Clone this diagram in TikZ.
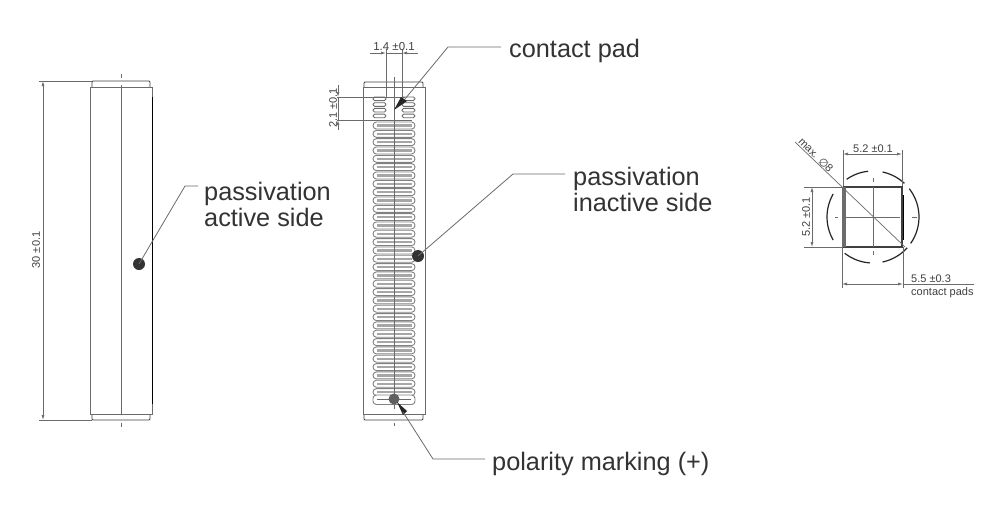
\documentclass[tikz,border=0pt]{standalone}
\usepackage{fontspec}
\setmainfont{Liberation Sans}
\newfontfamily\djv{DejaVu Sans}
\usetikzlibrary{arrows.meta}
\definecolor{ln}{gray}{0.42}
\definecolor{dk}{gray}{0.25}
\tikzset{
  partline/.style={draw=ln,line width=1pt},
  capline/.style={draw=dk,line width=0.9pt,rounded corners=1pt},
  thinline/.style={draw=ln,line width=0.7pt},
  dimline/.style={draw=ln,line width=0.7pt,{Latex[length=5pt,width=3pt]}-{Latex[length=5pt,width=3pt]}},
  dimout/.style={draw=ln,line width=0.7pt},
  leadline/.style={draw=ln,line width=0.8pt},
  dimtxt/.style={font=\fontsize{11}{13}\selectfont,text=dk,inner sep=0pt},
  labtxt/.style={font=\fontsize{25.3}{29}\selectfont,text=black!80,inner sep=0pt,anchor=base west},
  dotnode/.style={circle,fill=black!80,draw=none,minimum size=12pt,inner sep=0pt},
  lobe/.style={draw=ln!85,line width=0.9pt,fill=white,rounded corners=3.4pt},
  lobebar/.style={fill=ln!60},
  slot/.style={draw=ln,line width=0.9pt,fill=white,rounded corners=1.6pt},
  circarc/.style={draw=black!85,line width=1.2pt},
}
\begin{document}
\begin{tikzpicture}[x=1pt,y=-1pt]
\useasboundingbox (0,0) rectangle (1000,506);
\fill[white] (0,0) rectangle (1000,506);
% ===== left view
\draw[capline] (92,87) -- (92,81) -- (150,81) -- (150,87);
\draw[capline] (92,414) -- (92,420) -- (150,420) -- (150,414);
\draw[partline] (90,414) -- (90,87) -- (152,87) -- (152,414) -- cycle;
\draw[black,line width=1.1pt] (152.3,97) -- (152.3,404);
\draw[thinline] (121,74) -- (121,78) (121,85) -- (121,414) (121,423) -- (121,427);
\draw[thinline] (39,81) -- (92,81) (39,420) -- (92,420);
\coordinate (dT) at (43,81); \coordinate (dB) at (43,420);
\draw[dimline] (dT) -- (dB);
\node[dimtxt,rotate=90] (d30) at (36,250) {30 ±0.1};
\node[dotnode] (pa) at (139,264) {};
\coordinate (pa1) at (185,186);
\coordinate (pa2) at (198,186);
\draw[leadline] (pa.center) -- (pa1) -- (pa2);
\node[labtxt] (pat) at (204,200) {passivation};
\node[labtxt] (pat2) at (204,226) {active side};
% ===== middle view
\foreach \n in {0,...,32}{
  \pgfmathsetmacro{\y}{122+\n*8.33}
  \draw[lobe] (373,\y) rectangle (415,\y+7);
  \fill[lobebar] (376.5,\y+2.4) rectangle (411.5,\y+4.6);
}
\draw[lobe] (373,395) rectangle (415,404.5);
\draw[ln,line width=0.8pt] (377,399.7) -- (411,399.7);
\foreach \y in {97,102.7,108.4,114.1}{
  \draw[slot] (373,\y) rectangle (386,\y+3.6);
  \draw[slot] (402,\y) rectangle (415,\y+3.6);
}
\draw[capline] (364,87) -- (364,82) -- (423,82) -- (423,87);
\draw[capline] (364,414) -- (364,420) -- (423,420) -- (423,414);
\draw[partline] (363,414) -- (363,87) -- (425,87) -- (425,414) -- cycle;
\draw[thinline] (394,77) -- (394,409) (394,423) -- (394,426);
% dimension 1.4
\draw[thinline] (386,49) -- (386,97) (402,49) -- (402,97);
\draw[dimout,{Latex[length=5pt,width=3pt]}-] (386,53) -- (370,53);
\draw[dimout,{Latex[length=5pt,width=3pt]}-] (402,53) -- (418,53);
\draw[dimout] (386,53) -- (402,53);
\node[dimtxt,font=\fontsize{11.5}{13}\selectfont] (d14) at (394,47) {1.4 ±0.1};
% dimension 2.1
\draw[thinline] (333,97) -- (405,97) (333,120) -- (412,120);
\draw[dimout,{Latex[length=5pt,width=3pt]}-] (338,97) -- (338,85);
\draw[dimout,{Latex[length=5pt,width=3pt]}-] (338,120) -- (338,130);
\draw[dimout] (338,97) -- (338,120);
\node[dimtxt,fill=white,inner sep=0.5pt,rotate=90] (d21) at (333,108) {2.1 ±0.1};
% leaders
\fill[black!85] (394,110) -- (401,97) -- (407,101) -- cycle;
\coordinate (cp1) at (448,47); \coordinate (cp2) at (501,47); \coordinate (cp0) at (405,99);
\draw[leadline] (cp0) -- (cp1) -- (cp2);
\node[labtxt] (cpt) at (509,57) {contact pad};
\node[dotnode] (pi) at (418,256) {};
\coordinate (pi1) at (513,174); \coordinate (pi2) at (565,174);
\draw[leadline] (pi.center) -- (pi1) -- (pi2);
\node[labtxt] (pit) at (573,185) {passivation};
\node[labtxt] (pit2) at (573,211) {inactive side};
\node[circle,fill=gray!75!black,minimum size=11pt,inner sep=0pt] (pm) at (394,399) {};
\fill[black!85] (397,402) -- (407,411) -- (403,415) -- cycle;
\coordinate (pm0) at (403,412); \coordinate (pm1) at (433,459); \coordinate (pm2) at (485,459);
\draw[leadline] (pm0) -- (pm1) -- (pm2);
\node[labtxt] (pmt) at (492,470) {polarity marking (+)};
% ===== right view
\draw[dk,line width=1.2pt] (844,187) rectangle (902,247);
\fill[gray!85!black] (842,187) rectangle (845.5,247);
\draw[black,line width=1.3pt] (903.5,195) -- (903.5,240);
\foreach \a/\b in {-35/38,47/78,96/125,150/210,232/266,282/318}{
  \draw[circarc] plot[domain=\a:\b,samples=16,smooth] ({873+46*cos(\x)},{217-46*sin(\x)});
}
\draw[thinline] (873,178) -- (873,182) (873,187) -- (873,247) (873,251) -- (873,255);
\draw[thinline] (835,217) -- (838,217) (846,217) -- (900,217) (912,217) -- (917,217);
\coordinate (dg1) at (795,142); \coordinate (dg2) at (905,247);
\draw[thinline] (dg1) -- (dg2);
\node[dimtxt,rotate=-45] (dmax) at (816,155) {max. {\djv ∅}8};
\draw[thinline] (843,150) -- (843,186) (902,150) -- (902,186);
\draw[dimline] (843,154) -- (902,154);
\node[dimtxt] (d52a) at (873,149) {5.2 ±0.1};
\draw[thinline] (804,187) -- (843,187) (804,247) -- (843,247);
\draw[dimline] (812,187) -- (812,247);
\node[dimtxt,rotate=90] (d52b) at (806,217) {5.2 ±0.1};
\draw[thinline] (842,247) -- (842,288) (903,247) -- (903,288);
\draw[dimline] (842,284) -- (903,284);
\draw[thinline] (903,284) -- (974,284);
\node[dimtxt,anchor=base west] (d55) at (911,282) {5.5 ±0.3};
\node[dimtxt,anchor=base west] (dcp) at (911,295) {contact pads};
\end{tikzpicture}
\end{document}
